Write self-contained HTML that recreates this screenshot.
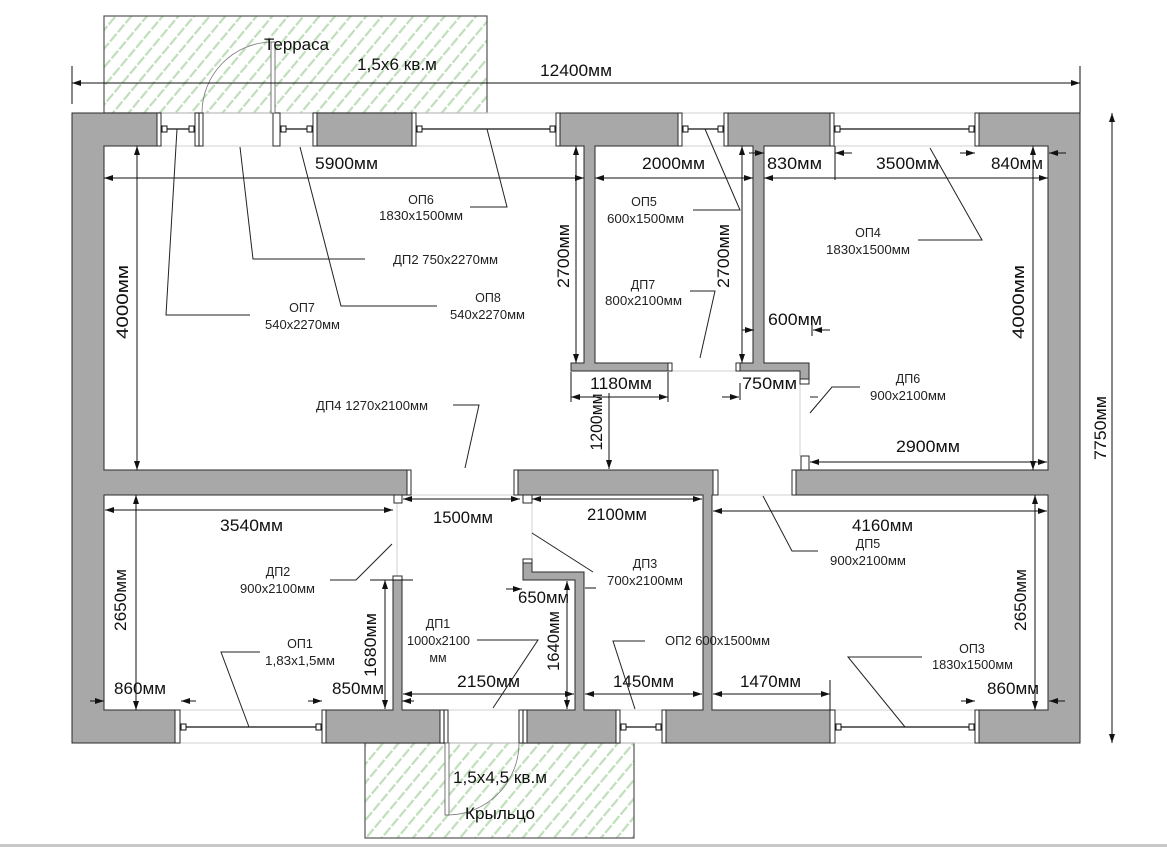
<!DOCTYPE html>
<html><head><meta charset="utf-8"><style>
html,body{margin:0;padding:0;background:#fff;}
svg{display:block;}
.d{font-family:"Liberation Sans",sans-serif;font-size:17px;fill:#111;}
.c{font-family:"Liberation Sans",sans-serif;font-size:12.5px;fill:#222;}
.w{fill:#a8a8a8;stroke:#2a2a2a;stroke-width:1;}
.cap{fill:#fff;stroke:#2a2a2a;stroke-width:1;}
.dl{stroke:#111;stroke-width:1;fill:none;marker-start:url(#a);marker-end:url(#a);}
.de{stroke:#111;stroke-width:1;fill:none;marker-end:url(#a);}
.ln{stroke:#111;stroke-width:1;fill:none;}
.ld{stroke:#222;stroke-width:1;fill:none;}
.ft{stroke:#d0d0d0;stroke-width:1;fill:none;}
.win{stroke:#111;stroke-width:1.2;}
.sq{fill:#fff;stroke:#111;stroke-width:1;}
</style></head><body>
<svg width="1167" height="847" viewBox="0 0 1167 847" xmlns="http://www.w3.org/2000/svg">
<defs>
<marker id="a" viewBox="0 0 9 6" refX="9" refY="3" markerWidth="9" markerHeight="6" markerUnits="userSpaceOnUse" orient="auto-start-reverse">
<path d="M0,0 L9,3 L0,6 z" fill="#111"/>
</marker>
<pattern id="h" patternUnits="userSpaceOnUse" width="12" height="12" patternTransform="rotate(40)">
<line x1="3" y1="0" x2="3" y2="12" stroke="#bfdfba" stroke-width="2.2" stroke-dasharray="9 2"/>
</pattern>
</defs>
<rect x="0" y="0" width="1167" height="847" fill="#fff"/>

<!-- terrace & porch -->
<rect x="104" y="16" width="383" height="97" fill="url(#h)" stroke="#555" stroke-width="1.2"/>
<rect x="365" y="743" width="269" height="95" fill="url(#h)" stroke="#555" stroke-width="1.2"/>

<!-- faint lines -->
<line class="ft" x1="161" y1="113" x2="975" y2="113" stroke="#bbb"/>
<line class="ft" x1="161" y1="146" x2="975" y2="146"/>
<line class="ft" x1="180" y1="710" x2="975" y2="710"/>
<line class="ft" x1="180" y1="743" x2="975" y2="743"/>
<line class="ft" x1="672" y1="371" x2="736" y2="371"/>
<line class="ft" x1="800" y1="383" x2="800" y2="456"/>
<line class="ft" x1="411" y1="495" x2="514" y2="495"/>
<line class="ft" x1="718" y1="495" x2="792" y2="495"/>
<line class="ft" x1="397" y1="503" x2="397" y2="576"/>
<line class="ft" x1="532" y1="503" x2="532" y2="559"/>

<!-- windows top -->
<g>
<line class="win" x1="161" y1="129" x2="195" y2="129"/>
<rect class="sq" x="162" y="126" width="5" height="6"/><rect class="sq" x="189" y="126" width="5" height="6"/>
<line class="win" x1="280" y1="129" x2="313" y2="129"/>
<rect class="sq" x="281" y="126" width="5" height="6"/><rect class="sq" x="307" y="126" width="5" height="6"/>
<line class="win" x1="416" y1="129" x2="556" y2="129"/>
<rect class="sq" x="417" y="126" width="5" height="6"/><rect class="sq" x="550" y="126" width="5" height="6"/>
<line class="win" x1="682" y1="129" x2="724" y2="129"/>
<rect class="sq" x="683" y="126" width="5" height="6"/><rect class="sq" x="718" y="126" width="5" height="6"/>
<line class="win" x1="834" y1="129" x2="975" y2="129"/>
<rect class="sq" x="835" y="126" width="5" height="6"/><rect class="sq" x="969" y="126" width="5" height="6"/>
</g>
<!-- windows bottom -->
<g>
<line class="win" x1="180" y1="727" x2="322" y2="727"/>
<rect class="sq" x="181" y="724" width="5" height="6"/><rect class="sq" x="316" y="724" width="5" height="6"/>
<line class="win" x1="620" y1="727" x2="662" y2="727"/>
<rect class="sq" x="621" y="724" width="5" height="6"/><rect class="sq" x="656" y="724" width="5" height="6"/>
<line class="win" x1="835" y1="727" x2="975" y2="727"/>
<rect class="sq" x="836" y="724" width="5" height="6"/><rect class="sq" x="969" y="724" width="5" height="6"/>
</g>

<!-- walls -->
<path class="w" d="M72,113 H157 V146 H104 V470 H407 V495 H104 V710 H175 V743 H72 Z"/>
<path class="w" d="M979,113 H1080 V743 H979 V710 H1048 V495 H796 V470 H1048 V146 H979 Z"/>
<rect class="w" x="317" y="113" width="95" height="33"/>
<path class="w" d="M560,113 H678 V146 H595 V363 H668 V371 H571 V363 H584 V146 H560 Z"/>
<path class="w" d="M728,113 H830 V146 H764 V363 H809 V379 H800 V371 H740 V363 H753 V146 H728 Z"/>
<path class="w" d="M518,470 H713 V495 H712 V710 H830 V743 H666 V710 H703 V495 H518 Z"/>
<path class="w" d="M326,710 H393 V580 H402 V710 H440 V743 H326 Z"/>
<path class="w" d="M527,710 H575 V580 H523 V563 H532 V572 H584 V710 H616 V743 H527 Z"/>

<!-- caps -->
<rect class="cap" x="157" y="113" width="4" height="33"/>
<rect class="cap" x="407" y="470" width="4" height="25"/>
<rect class="cap" x="175" y="710" width="5" height="33"/>
<rect class="cap" x="975" y="113" width="4" height="33"/>
<rect class="cap" x="792" y="470" width="4" height="25"/>
<rect class="cap" x="975" y="710" width="4" height="33"/>
<rect class="cap" x="313" y="113" width="4" height="33"/>
<rect class="cap" x="412" y="113" width="4" height="33"/>
<rect class="cap" x="556" y="113" width="4" height="33"/>
<rect class="cap" x="678" y="113" width="4" height="33"/>
<rect class="cap" x="724" y="113" width="4" height="33"/>
<rect class="cap" x="830" y="113" width="4" height="33"/>
<rect class="cap" x="668" y="363" width="4" height="8"/>
<rect class="cap" x="736" y="363" width="4" height="8"/>
<rect class="cap" x="800" y="379" width="9" height="5"/>
<rect class="cap" x="514" y="470" width="4" height="25"/>
<rect class="cap" x="713" y="470" width="5" height="25"/>
<rect class="cap" x="662" y="710" width="4" height="33"/>
<rect class="cap" x="830" y="710" width="5" height="33"/>
<rect class="cap" x="322" y="710" width="4" height="33"/>
<rect class="cap" x="616" y="710" width="4" height="33"/>
<rect class="cap" x="393" y="576" width="9" height="4"/>
<rect class="cap" x="523" y="559" width="9" height="4"/>
<rect class="cap" x="394" y="495" width="8" height="8"/>
<rect class="cap" x="523" y="495" width="9" height="8"/>
<rect class="cap" x="801" y="456" width="8" height="14"/>
<!-- door frames -->
<rect class="cap" x="195" y="113" width="8" height="33"/><line class="ln" x1="199" y1="113" x2="199" y2="146"/>
<rect class="cap" x="273" y="113" width="7" height="33"/>
<rect class="cap" x="440" y="710" width="8" height="33"/><line class="ln" x1="444" y1="710" x2="444" y2="743"/>
<rect class="cap" x="519" y="710" width="8" height="33"/><line class="ln" x1="523" y1="710" x2="523" y2="743"/>

<!-- door leaves -->
<rect x="271" y="42" width="4" height="71" fill="#fff" stroke="#555" stroke-width="0.8"/>
<path d="M202,113 A71,71 0 0 1 271,42" fill="none" stroke="#777" stroke-width="0.8"/>
<rect x="445" y="743" width="4" height="72" fill="#fff" stroke="#555" stroke-width="0.8"/>
<path d="M519,743 A72,72 0 0 1 449,815" fill="none" stroke="#777" stroke-width="0.8"/>

<!-- dimension lines -->
<line class="ln" x1="72" y1="66" x2="72" y2="104"/>
<line class="ln" x1="1080" y1="66" x2="1080" y2="113"/>
<line class="dl" x1="72" y1="83" x2="1080" y2="83"/>
<line class="dl" x1="104" y1="178" x2="584" y2="178"/>
<line class="dl" x1="595" y1="178" x2="753" y2="178"/>
<line class="dl" x1="764" y1="178" x2="1048" y2="178"/>
<line class="de" x1="749" y1="153" x2="764" y2="153"/>
<line class="de" x1="852" y1="153" x2="835" y2="153"/>
<line class="ln" x1="835" y1="146" x2="835" y2="180"/>
<line class="de" x1="960" y1="153" x2="975" y2="153"/>
<line class="de" x1="1066" y1="153" x2="1049" y2="153"/>
<line class="dl" x1="137" y1="146" x2="137" y2="470"/>
<line class="dl" x1="576" y1="146" x2="576" y2="363"/>
<line class="dl" x1="742" y1="146" x2="742" y2="363"/>
<line class="dl" x1="1033" y1="146" x2="1033" y2="470"/>
<line class="de" x1="742" y1="330" x2="754" y2="330"/>
<line class="de" x1="830" y1="330" x2="813" y2="330"/>
<line class="ln" x1="812" y1="325" x2="812" y2="336"/>
<line class="ln" x1="571" y1="372" x2="571" y2="402"/>
<line class="ln" x1="668" y1="372" x2="668" y2="402"/>
<line class="dl" x1="571" y1="397" x2="668" y2="397"/>
<line class="de" x1="722" y1="397" x2="739" y2="397"/>
<line class="ln" x1="740" y1="383" x2="740" y2="400"/>
<line class="de" x1="609" y1="393" x2="609" y2="469"/>
<line class="dl" x1="810" y1="462" x2="1047" y2="462"/>
<line class="dl" x1="105" y1="510" x2="393" y2="510"/>
<line class="dl" x1="403" y1="499" x2="520" y2="499"/>
<line class="dl" x1="532" y1="499" x2="702" y2="499"/>
<line class="dl" x1="713" y1="511" x2="1047" y2="511"/>
<line class="dl" x1="136" y1="495" x2="136" y2="710"/>
<line class="dl" x1="1035" y1="495" x2="1035" y2="710"/>
<line class="ln" x1="370" y1="580" x2="413" y2="580"/>
<line class="dl" x1="385" y1="580" x2="385" y2="709"/>
<line class="de" x1="308" y1="701" x2="322" y2="701"/>
<line class="de" x1="414" y1="701" x2="402" y2="701"/>
<line class="de" x1="90" y1="701" x2="104" y2="701"/>
<line class="de" x1="196" y1="701" x2="181" y2="701"/>
<line class="dl" x1="403" y1="694" x2="574" y2="694"/>
<line class="dl" x1="567" y1="581" x2="567" y2="709"/>
<line class="de" x1="506" y1="589" x2="522" y2="589"/>
<line class="ln" x1="585" y1="588" x2="596" y2="588"/>
<line class="dl" x1="585" y1="694" x2="702" y2="694"/>
<line class="dl" x1="713" y1="694" x2="830" y2="694"/>
<line class="ln" x1="830" y1="680" x2="830" y2="710"/>
<line class="de" x1="961" y1="701" x2="975" y2="701"/>
<line class="de" x1="1065" y1="701" x2="1049" y2="701"/>
<line class="dl" x1="1112" y1="113" x2="1112" y2="743"/>

<!-- leaders -->
<polyline class="ld" points="177,129 166,315 250,315"/>
<polyline class="ld" points="240,147 253,259 365,259"/>
<polyline class="ld" points="300,147 341,306 437,306"/>
<polyline class="ld" points="487,129 507,207 470,207"/>
<polyline class="ld" points="705,129 740,210 693,210"/>
<polyline class="ld" points="930,148 982,240 918,240"/>
<polyline class="ld" points="700,358 715,291 690,291"/>
<polyline class="ld" points="465,468 479,405 453,405"/>
<polyline class="ld" points="810,413 832,387 860,387"/>
<line class="ld" x1="810" y1="397" x2="818" y2="397"/>
<polyline class="ld" points="392,544 356,580 330,580"/>
<polyline class="ld" points="532,533 593,572"/>
<polyline class="ld" points="763,496 792,551 818,551"/>
<polyline class="ld" points="493,708 538,640 477,640"/>
<polyline class="ld" points="249,727 221,652 260,652"/>
<polyline class="ld" points="635,709 613,641 645,641"/>
<polyline class="ld" points="905,727 848,657 922,657"/>

<!-- dimension labels -->
<text class="d" x="540" y="76" textLength="72" lengthAdjust="spacingAndGlyphs">12400мм</text>
<text class="d" x="315" y="169" textLength="63" lengthAdjust="spacingAndGlyphs">5900мм</text>
<text class="d" x="642" y="169" textLength="63" lengthAdjust="spacingAndGlyphs">2000мм</text>
<text class="d" x="767" y="169" textLength="55" lengthAdjust="spacingAndGlyphs">830мм</text>
<text class="d" x="876" y="169" textLength="63" lengthAdjust="spacingAndGlyphs">3500мм</text>
<text class="d" x="991" y="169" textLength="52" lengthAdjust="spacingAndGlyphs">840мм</text>
<text class="d" transform="translate(128,302) rotate(-90)" text-anchor="middle" textLength="74" lengthAdjust="spacingAndGlyphs">4000мм</text>
<text class="d" transform="translate(569,256) rotate(-90)" text-anchor="middle" textLength="64" lengthAdjust="spacingAndGlyphs">2700мм</text>
<text class="d" transform="translate(729,256) rotate(-90)" text-anchor="middle" textLength="64" lengthAdjust="spacingAndGlyphs">2700мм</text>
<text class="d" transform="translate(1024,302) rotate(-90)" text-anchor="middle" textLength="74" lengthAdjust="spacingAndGlyphs">4000мм</text>
<text class="d" x="768" y="325" textLength="54" lengthAdjust="spacingAndGlyphs">600мм</text>
<text class="d" x="590" y="389" textLength="62" lengthAdjust="spacingAndGlyphs">1180мм</text>
<text class="d" x="742" y="389" textLength="55" lengthAdjust="spacingAndGlyphs">750мм</text>
<text class="d" transform="translate(602,422) rotate(-90)" text-anchor="middle" textLength="57" lengthAdjust="spacingAndGlyphs">1200мм</text>
<text class="d" x="896" y="452" textLength="64" lengthAdjust="spacingAndGlyphs">2900мм</text>
<text class="d" x="220" y="531" textLength="63" lengthAdjust="spacingAndGlyphs">3540мм</text>
<text class="d" x="433" y="523" textLength="60" lengthAdjust="spacingAndGlyphs">1500мм</text>
<text class="d" x="587" y="520" textLength="60" lengthAdjust="spacingAndGlyphs">2100мм</text>
<text class="d" x="852" y="531" textLength="61" lengthAdjust="spacingAndGlyphs">4160мм</text>
<text class="d" transform="translate(126,600) rotate(-90)" text-anchor="middle" textLength="62" lengthAdjust="spacingAndGlyphs">2650мм</text>
<text class="d" transform="translate(1026,600) rotate(-90)" text-anchor="middle" textLength="62" lengthAdjust="spacingAndGlyphs">2650мм</text>
<text class="d" transform="translate(376,645) rotate(-90)" text-anchor="middle" textLength="64" lengthAdjust="spacingAndGlyphs">1680мм</text>
<text class="d" x="518" y="603" textLength="51" lengthAdjust="spacingAndGlyphs">650мм</text>
<text class="d" transform="translate(559,641) rotate(-90)" text-anchor="middle" textLength="60" lengthAdjust="spacingAndGlyphs">1640мм</text>
<text class="d" x="114" y="694" textLength="52" lengthAdjust="spacingAndGlyphs">860мм</text>
<text class="d" x="332" y="694" textLength="52" lengthAdjust="spacingAndGlyphs">850мм</text>
<text class="d" x="457" y="687" textLength="63" lengthAdjust="spacingAndGlyphs">2150мм</text>
<text class="d" x="613" y="687" textLength="61" lengthAdjust="spacingAndGlyphs">1450мм</text>
<text class="d" x="740" y="687" textLength="61" lengthAdjust="spacingAndGlyphs">1470мм</text>
<text class="d" x="987" y="694" textLength="52" lengthAdjust="spacingAndGlyphs">860мм</text>
<text class="d" transform="translate(1106,428) rotate(-90)" text-anchor="middle" textLength="64" lengthAdjust="spacingAndGlyphs">7750мм</text>

<text class="d" x="264" y="50" textLength="65" lengthAdjust="spacingAndGlyphs">Терраса</text>
<text class="d" x="357" y="70" textLength="80" lengthAdjust="spacingAndGlyphs">1,5х6 кв.м</text>
<text class="d" x="453" y="783" textLength="94" lengthAdjust="spacingAndGlyphs">1,5х4,5 кв.м</text>
<text class="d" x="465" y="819" textLength="70" lengthAdjust="spacingAndGlyphs">Крыльцо</text>

<!-- callout labels -->
<text class="c" x="421" y="204" text-anchor="middle">ОП6</text>
<text class="c" x="379" y="220" textLength="84" lengthAdjust="spacingAndGlyphs">1830х1500мм</text>
<text class="c" x="393" y="264" textLength="105" lengthAdjust="spacingAndGlyphs">ДП2 750х2270мм</text>
<text class="c" x="488" y="302" text-anchor="middle">ОП8</text>
<text class="c" x="450" y="319" textLength="75" lengthAdjust="spacingAndGlyphs">540х2270мм</text>
<text class="c" x="302" y="312" text-anchor="middle">ОП7</text>
<text class="c" x="265" y="329" textLength="75" lengthAdjust="spacingAndGlyphs">540х2270мм</text>
<text class="c" x="644" y="206" text-anchor="middle">ОП5</text>
<text class="c" x="607" y="223" textLength="77" lengthAdjust="spacingAndGlyphs">600х1500мм</text>
<text class="c" x="868" y="237" text-anchor="middle">ОП4</text>
<text class="c" x="826" y="254" textLength="84" lengthAdjust="spacingAndGlyphs">1830х1500мм</text>
<text class="c" x="643" y="289" text-anchor="middle">ДП7</text>
<text class="c" x="605" y="305" textLength="77" lengthAdjust="spacingAndGlyphs">800х2100мм</text>
<text class="c" x="316" y="410" textLength="112" lengthAdjust="spacingAndGlyphs">ДП4 1270х2100мм</text>
<text class="c" x="908" y="383" text-anchor="middle">ДП6</text>
<text class="c" x="870" y="400" textLength="76" lengthAdjust="spacingAndGlyphs">900х2100мм</text>
<text class="c" x="278" y="576" text-anchor="middle">ДП2</text>
<text class="c" x="240" y="593" textLength="75" lengthAdjust="spacingAndGlyphs">900х2100мм</text>
<text class="c" x="645" y="568" text-anchor="middle">ДП3</text>
<text class="c" x="607" y="585" textLength="76" lengthAdjust="spacingAndGlyphs">700х2100мм</text>
<text class="c" x="868" y="548" text-anchor="middle">ДП5</text>
<text class="c" x="830" y="565" textLength="76" lengthAdjust="spacingAndGlyphs">900х2100мм</text>
<text class="c" x="438" y="628" text-anchor="middle">ДП1</text>
<text class="c" x="407" y="645" textLength="63" lengthAdjust="spacingAndGlyphs">1000х2100</text>
<text class="c" x="438" y="662" text-anchor="middle">мм</text>
<text class="c" x="300" y="648" text-anchor="middle">ОП1</text>
<text class="c" x="265" y="665" textLength="70" lengthAdjust="spacingAndGlyphs">1,83х1,5мм</text>
<text class="c" x="665" y="645" textLength="105" lengthAdjust="spacingAndGlyphs">ОП2 600х1500мм</text>
<text class="c" x="972" y="653" text-anchor="middle">ОП3</text>
<text class="c" x="932" y="669" textLength="81" lengthAdjust="spacingAndGlyphs">1830х1500мм</text>

<rect x="0" y="844" width="1167" height="3" fill="#c8c8c8"/>
</svg>
</body></html>
